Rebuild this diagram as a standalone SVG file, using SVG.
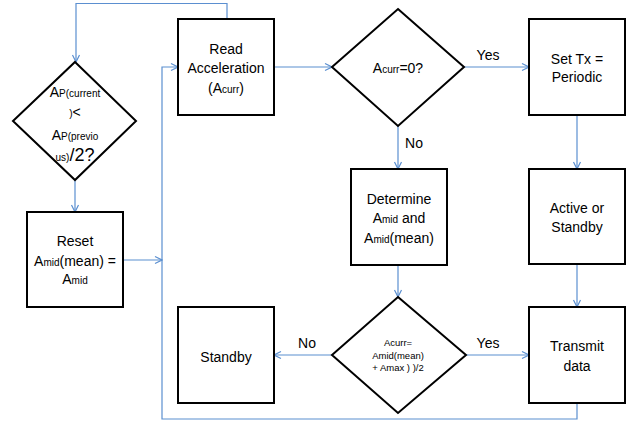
<svg xmlns="http://www.w3.org/2000/svg" width="638" height="421" viewBox="0 0 638 421">
<style>
.box{fill:#fff;stroke:#000;stroke-width:2}
.t{font-family:"Liberation Sans",Arial,sans-serif;font-size:14px;fill:#000;text-anchor:middle}
.s{font-size:10px}
.sm{font-family:"Liberation Sans",Arial,sans-serif;font-size:9.5px;fill:#000;text-anchor:middle}
.c{fill:none;stroke:#5b8fd0;stroke-width:1.2}
</style>
<defs>
<marker id="ah" markerUnits="userSpaceOnUse" markerWidth="10" markerHeight="10" viewBox="0 0 10 10" refX="9" refY="5" orient="auto">
<path d="M2,1.5 L9,5 L2,8.5" fill="none" stroke="#5b8fd0" stroke-width="1.2"/>
</marker>
</defs>
<g id="connectors">
<path class="c" d="M227,19 V3.5 H76 V62" marker-end="url(#ah)"/>
<path class="c" d="M75,180 V212" marker-end="url(#ah)"/>
<path class="c" d="M123,260 H162" marker-end="url(#ah)"/>
<path class="c" d="M577,403 V419 H162 V67 H178" marker-end="url(#ah)"/>
<path class="c" d="M274,67 H332" marker-end="url(#ah)"/>
<path class="c" d="M464,67 H529" marker-end="url(#ah)"/>
<path class="c" d="M398,126 V169" marker-end="url(#ah)"/>
<path class="c" d="M577,115 V169" marker-end="url(#ah)"/>
<path class="c" d="M577,264 V307" marker-end="url(#ah)"/>
<path class="c" d="M398,265 V297" marker-end="url(#ah)"/>
<path class="c" d="M466,355 H529" marker-end="url(#ah)"/>
<path class="c" d="M332,355 H274" marker-end="url(#ah)"/>
<text class="t" x="488" y="60">Yes</text>
<text class="t" x="414" y="148">No</text>
<text class="t" x="488" y="348">Yes</text>
<text class="t" x="307" y="348">No</text>
</g>
<g id="decision1">
<polygon class="box" points="75,62 136,121 75,180 13,121"/>
<text class="t" x="75" y="97">A<tspan class="s">P(current</tspan></text>
<text class="t" x="75" y="117"><tspan class="s">)</tspan>&lt;</text>
<text class="t" x="75" y="140">A<tspan class="s">P(previo</tspan></text>
<text class="t" x="75" y="161"><tspan class="s">us)</tspan><tspan style="font-size:18px">/2?</tspan></text>
</g>
<g id="reset">
<rect class="box" x="27" y="212" width="96" height="95"/>
<text class="t" x="75" y="246">Reset</text>
<text class="t" x="75" y="266">A<tspan class="s">mid</tspan>(mean) =</text>
<text class="t" x="75" y="284">A<tspan class="s">mid</tspan></text>
</g>
<g id="read">
<rect class="box" x="178" y="19" width="96" height="96"/>
<text class="t" x="226" y="54">Read</text>
<text class="t" x="226" y="73">Acceleration</text>
<text class="t" x="226" y="93">(A<tspan class="s">curr</tspan>)</text>
</g>
<g id="decision2">
<polygon class="box" points="398,9 464,67 398,126 332,67"/>
<text class="t" x="398" y="73">A<tspan class="s">curr</tspan>=0?</text>
</g>
<g id="settx">
<rect class="box" x="529" y="19" width="96" height="96"/>
<text class="t" x="577" y="64">Set Tx =</text>
<text class="t" x="577" y="82">Periodic</text>
</g>
<g id="determine">
<rect class="box" x="351" y="169" width="96" height="96"/>
<text class="t" x="399" y="204">Determine</text>
<text class="t" x="399" y="223">A<tspan class="s">mid</tspan> and</text>
<text class="t" x="399" y="243">A<tspan class="s">mid</tspan>(mean)</text>
</g>
<g id="active">
<rect class="box" x="529" y="169" width="96" height="95"/>
<text class="t" x="577" y="213">Active or</text>
<text class="t" x="577" y="232">Standby</text>
</g>
<g id="decision3">
<polygon class="box" points="398,297 466,355 398,413 332,355"/>
<text class="sm" x="398" y="346">Acurr=</text>
<text class="sm" x="398" y="359">Amid(mean)</text>
<text class="sm" x="398" y="371">+ Amax ) )/2</text>
</g>
<g id="transmit">
<rect class="box" x="529" y="307" width="96" height="96"/>
<text class="t" x="577" y="351">Transmit</text>
<text class="t" x="577" y="371">data</text>
</g>
<g id="standby">
<rect class="box" x="178" y="307" width="96" height="96"/>
<text class="t" x="226" y="362">Standby</text>
</g>
</svg>
